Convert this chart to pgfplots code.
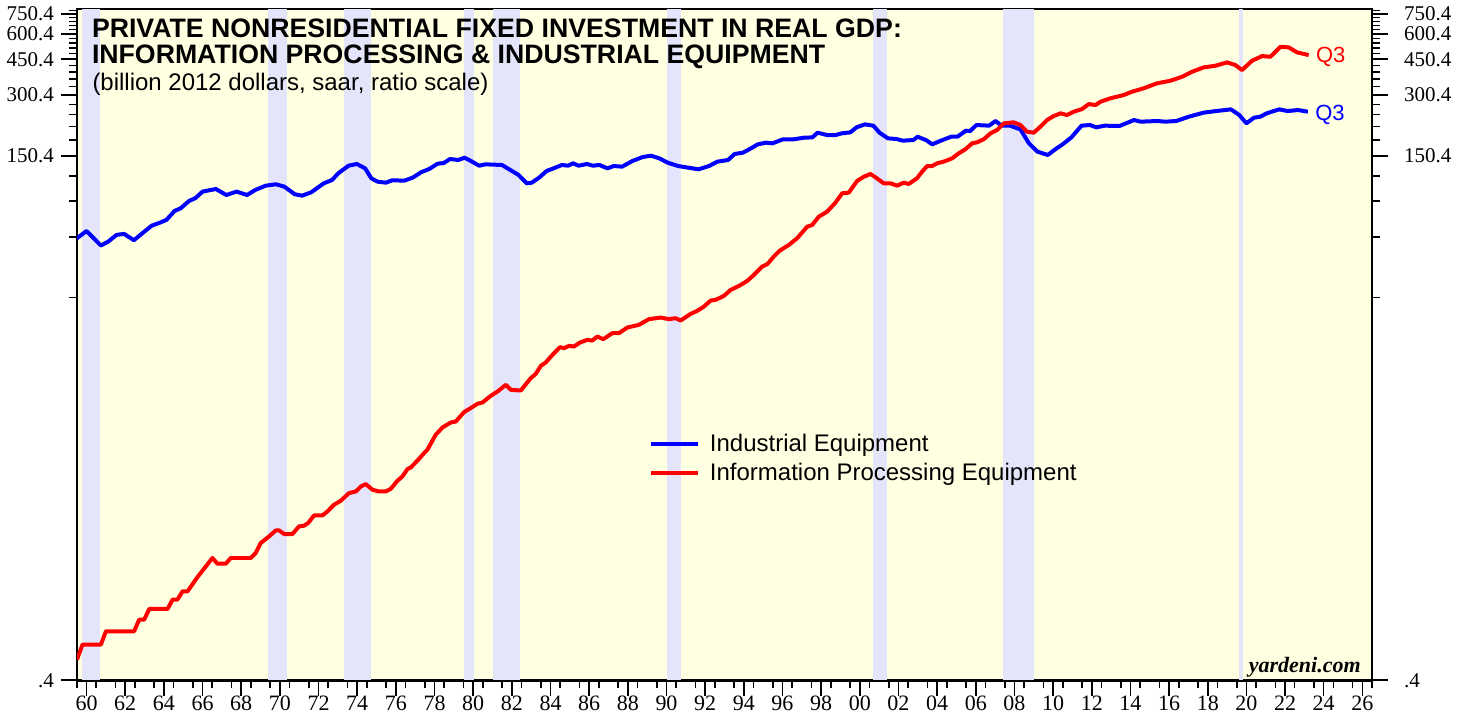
\documentclass[border=0pt]{standalone}
\usepackage{fontspec}
\setmainfont{Liberation Serif}
\setsansfont{Liberation Sans}
\usepackage{pgfplots}
\pgfplotsset{compat=1.18}
\definecolor{bgy}{RGB}{255,255,226}
\definecolor{rec}{RGB}{228,228,250}
\begin{document}
\begin{tikzpicture}
\begin{axis}[
  scale only axis, width=648pt, height=335.85pt,
  xmin=1960, xmax=2027, ymode=log, ymin=0.4, ymax=795,
  tick align=outside,
  major tick length=8pt, minor tick length=4pt,
  ytick={0.4,150.4,300.4,450.4,600.4,750.4},
  yticklabels={.4,150.4,300.4,450.4,600.4,750.4},
  yticklabel style={font=\fontsize{10.5}{12}\selectfont},
  axis background/.style={fill=bgy},
  axis line style={line width=1.4pt},
  tick style={line width=0.75pt, black},
  xtick={1960.5,1962.5,...,2026.5},
  xticklabels={60,62,64,66,68,70,72,74,76,78,80,82,84,86,88,90,92,94,96,98,00,02,04,06,08,10,12,14,16,18,20,22,24,26},
  xticklabel style={font=\fontsize{11}{12}\selectfont, yshift=3.5pt},
  minor xtick={1960,1961,...,2027},
  xtick pos=left, ytick pos=both,
  minor ytick={30.4,60.4,90.4,120.4,180.4,210.4,240.4,270.4,330.4,360.4,390.4,420.4,480.4,510.4,540.4,570.4,630.4,660.4,690.4,720.4,780.4},
  legend style={at={(0.4414,0.3735)}, anchor=north west, draw=none, fill=none, inner sep=0pt,
    row sep=0.5pt, font=\sffamily\fontsize{12}{14}\selectfont},
  legend cell align=left,
  legend image code/.code={\draw (0pt,0pt) -- (23.5pt,0pt); \path (26.5pt,0pt);},
]
% recessions
\addplot[fill=rec, draw=none, forget plot] coordinates {(1960.25,0.4)(1961.17,0.4)(1961.17,795)(1960.25,795)} -- cycle;
\addplot[fill=rec, draw=none, forget plot] coordinates {(1969.9,0.4)(1970.85,0.4)(1970.85,795)(1969.9,795)} -- cycle;
\addplot[fill=rec, draw=none, forget plot] coordinates {(1973.83,0.4)(1975.2,0.4)(1975.2,795)(1973.83,795)} -- cycle;
\addplot[fill=rec, draw=none, forget plot] coordinates {(1980.0,0.4)(1980.55,0.4)(1980.55,795)(1980.0,795)} -- cycle;
\addplot[fill=rec, draw=none, forget plot] coordinates {(1981.5,0.4)(1982.92,0.4)(1982.92,795)(1981.5,795)} -- cycle;
\addplot[fill=rec, draw=none, forget plot] coordinates {(1990.52,0.4)(1991.25,0.4)(1991.25,795)(1990.52,795)} -- cycle;
\addplot[fill=rec, draw=none, forget plot] coordinates {(2001.17,0.4)(2001.9,0.4)(2001.9,795)(2001.17,795)} -- cycle;
\addplot[fill=rec, draw=none, forget plot] coordinates {(2007.92,0.4)(2009.5,0.4)(2009.5,795)(2007.92,795)} -- cycle;
\addplot[fill=rec, draw=none, forget plot] coordinates {(2020.1,0.4)(2020.33,0.4)(2020.33,795)(2020.1,795)} -- cycle;
% Industrial equipment
\addplot[blue, line width=2pt, line join=round] coordinates {
(1960.0,59.4)(1960.5,64.5)(1960.87,59.4)(1961.24,54.7)(1961.62,57.2)(1962.05,61.7)(1962.44,62.4)(1962.95,58.1)(1963.45,63.6)(1963.87,68.5)(1964.3,70.9)(1964.63,73.1)(1965.05,80.9)(1965.37,83.4)(1965.8,90.6)(1966.12,93.4)(1966.5,100.7)(1967.19,103.7)(1967.73,96.9)(1968.26,100.7)(1968.8,96.9)(1969.23,102.6)(1969.77,107.7)(1970.3,109.4)(1970.73,106.5)(1971.27,97.7)(1971.65,96.2)(1972.12,99.9)(1972.77,110.6)(1973.2,114.8)(1973.52,123.8)(1974.05,135.0)(1974.48,137.6)(1974.91,131.0)(1975.23,117.0)(1975.55,112.7)(1975.98,111.4)(1976.3,114.4)(1976.94,114.0)(1977.37,117.9)(1977.8,125.2)(1978.23,130.1)(1978.66,138.1)(1978.98,139.2)(1979.3,145.6)(1979.73,144.0)(1980.06,147.8)(1980.38,142.4)(1980.81,135.0)(1981.13,137.1)(1981.99,136.1)(1982.42,128.6)(1982.85,121.5)(1983.27,110.6)(1983.53,111.4)(1983.91,117.9)(1984.3,127.2)(1984.66,131.0)(1985.09,136.1)(1985.41,135.0)(1985.67,138.7)(1985.95,135.0)(1986.38,137.6)(1986.7,135.0)(1987.02,136.1)(1987.45,131.0)(1987.77,134.5)(1988.2,133.5)(1988.74,142.4)(1989.27,148.9)(1989.7,151.2)(1990.13,146.7)(1990.56,139.7)(1991.1,134.5)(1991.63,132.0)(1992.16,129.6)(1992.7,134.5)(1993.13,141.3)(1993.69,144.0)(1994.02,154.1)(1994.45,156.4)(1994.78,162.4)(1995.22,171.9)(1995.65,175.2)(1995.98,173.8)(1996.52,181.9)(1997.07,181.9)(1997.61,185.3)(1998.05,186.0)(1998.31,196.1)(1998.81,191.0)(1999.25,191.0)(1999.57,194.7)(2000.01,196.9)(2000.33,208.3)(2000.76,215.5)(2001.2,212.3)(2001.52,196.1)(2001.96,183.9)(2002.4,182.6)(2002.72,179.2)(2003.27,180.5)(2003.49,187.4)(2003.92,180.5)(2004.25,171.9)(2004.69,179.2)(2005.23,187.4)(2005.55,187.4)(2005.99,200.6)(2006.21,199.8)(2006.53,213.9)(2007.19,212.3)(2007.52,223.8)(2007.84,212.3)(2008.27,212.3)(2008.81,203.6)(2009.25,173.8)(2009.69,158.2)(2010.23,152.4)(2010.56,161.2)(2010.99,171.9)(2011.43,185.3)(2011.97,212.3)(2012.41,213.9)(2012.73,208.3)(2013.17,212.3)(2013.93,211.5)(2014.69,226.3)(2015.02,222.1)(2015.89,223.8)(2016.32,222.1)(2016.87,223.8)(2017.52,235.0)(2018.28,245.9)(2018.93,250.5)(2019.7,255.3)(2020.13,239.5)(2020.5,217.9)(2020.89,232.4)(2021.22,235.0)(2021.54,244.0)(2022.2,255.3)(2022.63,250.5)(2023.17,253.4)(2023.68,248.7)
};
\addlegendentry{Industrial Equipment}
% Information processing equipment
\addplot[red, line width=2pt, line join=round] coordinates {
(1960.0,0.505)(1960.29,0.599)(1961.24,0.599)(1961.5,0.696)(1962.96,0.696)(1963.22,0.794)(1963.48,0.794)(1963.74,0.896)(1964.69,0.896)(1964.95,0.996)(1965.2,0.996)(1965.46,1.093)(1965.72,1.093)(1966.24,1.286)(1966.67,1.450)(1967.01,1.595)(1967.27,1.495)(1967.7,1.495)(1967.96,1.595)(1968.99,1.595)(1969.25,1.688)(1969.51,1.890)(1969.94,2.036)(1970.29,2.179)(1970.46,2.179)(1970.72,2.092)(1971.15,2.092)(1971.49,2.280)(1971.75,2.298)(1971.96,2.369)(1972.27,2.582)(1972.7,2.582)(1972.96,2.701)(1973.3,2.914)(1973.65,3.048)(1974.08,3.326)(1974.43,3.386)(1974.69,3.583)(1974.94,3.682)(1975.29,3.452)(1975.63,3.386)(1975.98,3.386)(1976.24,3.491)(1976.58,3.822)(1976.84,4.012)(1977.1,4.362)(1977.27,4.442)(1977.62,4.808)(1977.96,5.228)(1978.13,5.426)(1978.56,6.430)(1978.91,6.983)(1979.34,7.389)(1979.6,7.473)(1980.03,8.311)(1980.29,8.598)(1980.72,9.128)(1980.98,9.264)(1981.41,9.992)(1981.76,10.49)(1982.19,11.32)(1982.45,10.69)(1982.96,10.61)(1983.48,12.21)(1983.74,12.81)(1984.0,14.03)(1984.25,14.56)(1984.6,15.88)(1984.99,17.33)(1985.2,17.13)(1985.46,17.58)(1985.71,17.45)(1986.02,18.25)(1986.4,18.82)(1986.66,18.67)(1986.92,19.53)(1987.23,18.97)(1987.7,20.30)(1988.04,20.30)(1988.47,21.63)(1989.07,22.30)(1989.59,23.78)(1990.2,24.22)(1990.63,23.78)(1990.97,24.05)(1991.23,23.41)(1991.75,25.25)(1992.09,26.12)(1992.44,27.42)(1992.78,29.34)(1993.04,29.58)(1993.47,30.95)(1993.82,33.12)(1994.25,34.65)(1994.68,36.67)(1995.02,39.24)(1995.45,43.10)(1995.71,44.28)(1996.05,48.26)(1996.36,51.64)(1996.83,55.08)(1997.26,59.42)(1997.78,67.74)(1998.04,69.06)(1998.38,75.85)(1998.81,80.26)(1999.24,88.86)(1999.59,98.82)(1999.93,99.49)(2000.36,113.6)(2000.71,119.2)(2001.05,122.9)(2001.31,118.4)(2001.74,110.6)(2002.09,110.6)(2002.43,107.7)(2002.77,111.4)(2003.03,109.8)(2003.46,117.1)(2003.72,126.1)(2003.98,134.5)(2004.24,134.5)(2004.5,138.7)(2004.84,141.3)(2005.28,146.8)(2005.62,155.3)(2005.96,162.5)(2006.31,173.9)(2006.57,175.9)(2006.91,182.0)(2007.26,194.7)(2007.6,202.1)(2007.95,218.0)(2008.46,220.5)(2008.81,213.9)(2009.15,198.3)(2009.5,196.1)(2009.84,209.8)(2010.19,226.3)(2010.53,236.8)(2010.88,244.1)(2011.22,239.5)(2011.57,248.6)(2012.0,256.3)(2012.35,271.2)(2012.69,268.1)(2012.95,278.3)(2013.46,289.3)(2014.15,300.2)(2014.58,311.7)(2015.18,323.9)(2015.87,342.7)(2016.56,352.9)(2017.17,369.2)(2017.69,390.7)(2018.29,410.6)(2018.89,418.1)(2019.5,434.5)(2019.93,421.5)(2020.27,398.3)(2020.79,442.5)(2021.31,466.7)(2021.74,462.9)(2022.26,518.3)(2022.69,514.8)(2023.12,486.5)(2023.72,471.9)
};
\addlegendentry{Information Processing Equipment}
% texts
\node[anchor=base west, inner sep=0pt, xshift=7.35pt, yshift=-14.15pt, font=\sffamily\bfseries\fontsize{13.35}{15}\selectfont] at (rel axis cs:0,1) {PRIVATE NONRESIDENTIAL FIXED INVESTMENT IN REAL GDP:};
\node[anchor=base west, inner sep=0pt, xshift=7.35pt, yshift=-27.5pt, font=\sffamily\bfseries\fontsize{13.35}{15}\selectfont] at (rel axis cs:0,1) {INFORMATION PROCESSING \& INDUSTRIAL EQUIPMENT};
\node[anchor=base west, inner sep=0pt, xshift=7.6pt, yshift=-40.85pt, font=\sffamily\fontsize{12}{14}\selectfont] at (rel axis cs:0,1) {(billion 2012 dollars, saar, ratio scale)};
\node[anchor=west, inner sep=0pt, xshift=3.5pt, yshift=-1pt, text=red, font=\sffamily\fontsize{11}{12}\selectfont] at (axis cs:2023.72,471.9) {Q3};
\node[anchor=west, inner sep=0pt, xshift=3.5pt, yshift=-1.5pt, text=blue, font=\sffamily\fontsize{11}{12}\selectfont] at (axis cs:2023.68,248.7) {Q3};
\node[anchor=base east, inner sep=0pt, xshift=-5.5pt, yshift=4pt, font=\bfseries\itshape\fontsize{11}{12}\selectfont] at (rel axis cs:1,0) {yardeni.com};
\end{axis}
\begin{axis}[
  scale only axis, width=648pt, height=335.85pt,
  xmin=1960, xmax=2027, ymode=log, ymin=0.4, ymax=795,
  tick align=outside, major tick length=8pt,
  ytick={0.4,150.4,300.4,450.4,600.4,750.4},
  yticklabels={.4,150.4,300.4,450.4,600.4,750.4},
  yticklabel style={font=\fontsize{10.5}{12}\selectfont, xshift=4.5pt},
  hide x axis,
  axis line style={draw=none},
  tick style={draw=none},
  yticklabel pos=right,
]
\end{axis}
\path (current axis.south west) ++(-38pt,-15.65pt) coordinate (bbA);
\path (current axis.north east) ++(43pt,4.5pt) coordinate (bbB);
\path (bbA) rectangle (bbB);
\end{tikzpicture}
\end{document}
